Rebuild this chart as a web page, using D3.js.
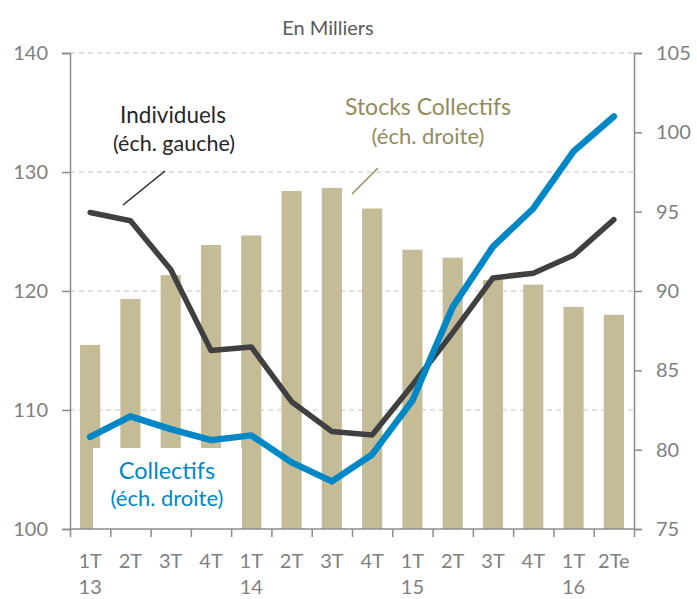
<!DOCTYPE html>
<html>
<head>
<meta charset="utf-8">
<script src="https://cdn.jsdelivr.net/npm/d3@7"></script>
<style>
  body { margin: 0; background: #fff; }
  svg { font-family: "Lato", "Open Sans", sans-serif; }
</style>
</head>
<body>
<script>
// Data
var quarters = ["1T", "2T", "3T", "4T", "1T", "2T", "3T", "4T", "1T", "2T", "3T", "4T", "1T", "2Te"];
var years = ["13", "", "", "", "14", "", "", "", "15", "", "", "", "16", ""];
var individuels = [126.6, 125.9, 121.8, 115.0, 115.3, 110.7, 108.2, 107.9, 112.1, 116.5, 121.1, 121.5, 123.0, 126.0]; // éch. gauche
var collectifs = [80.8, 82.1, 81.3, 80.6, 80.9, 79.2, 78.0, 79.7, 83.1, 89.0, 92.8, 95.2, 98.8, 101.0];       // éch. droite
var stocks = [86.6, 89.5, 91.0, 92.9, 93.5, 96.3, 96.5, 95.2, 92.6, 92.1, 90.7, 90.4, 89.0, 88.5];           // éch. droite
var leftTicks = [100, 110, 120, 130, 140];
var rightTicks = [75, 80, 85, 90, 95, 100, 105];

function chart() {
  var W = 697, H = 599;
  var left = 70, right = 634, top = 53, bottom = 529;

  var svg = d3.select("body").append("svg")
    .attr("width", W)
    .attr("height", H);

  var x = d3.scaleBand()
    .domain(d3.range(quarters.length))
    .range([left, right])
    .paddingInner(0.5)
    .paddingOuter(0.25);
  var xb = d3.scaleLinear().domain([0, quarters.length]).range([left, right]);
  var yL = d3.scaleLinear().domain([100, 140]).range([bottom, top]);
  var yR = d3.scaleLinear().domain([75, 105]).range([bottom, top]);
  var cx = function (i) { return x(i) + x.bandwidth() / 2; };

  // grid
  svg.append("g").selectAll("line")
    .data(leftTicks.slice(1))
    .enter().append("line")
    .attr("x1", left).attr("x2", right)
    .attr("y1", function (d) { return yL(d); })
    .attr("y2", function (d) { return yL(d); })
    .attr("stroke", "#c6c6c6")
    .attr("stroke-width", 1.2)
    .attr("stroke-dasharray", "5,4");

  // bars (stocks)
  svg.append("g").selectAll("rect")
    .data(stocks)
    .enter().append("rect")
    .attr("x", function (d, i) { return x(i); })
    .attr("y", function (d) { return yR(d); })
    .attr("width", x.bandwidth())
    .attr("height", function (d) { return yR(75) - yR(d); })
    .attr("fill", "#c4bc96");

  // white box behind the Collectifs label
  svg.append("rect")
    .attr("x", 93).attr("y", 448)
    .attr("width", 149).attr("height", bottom - 448)
    .attr("fill", "#fff");

  // axes
  var axL = svg.append("g")
    .attr("transform", "translate(" + left + ",0)")
    .call(d3.axisLeft(yL).tickValues(leftTicks).tickSize(8).tickPadding(14));
  var axR = svg.append("g")
    .attr("transform", "translate(" + right + ",0)")
    .call(d3.axisRight(yR).tickValues(rightTicks).tickSize(8).tickPadding(14));
  var axB = svg.append("g")
    .attr("transform", "translate(0," + bottom + ")")
    .call(d3.axisBottom(xb).tickValues(d3.range(quarters.length + 1)).tickFormat("").tickSize(8));

  [axL, axR, axB].forEach(function (g) {
    g.select(".domain").attr("stroke", "#8c8c8c").attr("stroke-width", 1.5);
    g.selectAll(".tick line").attr("stroke", "#8c8c8c").attr("stroke-width", 1.5);
    g.selectAll(".tick text")
      .attr("fill", "#808080")
      .attr("font-size", "20px")
      .attr("font-family", "Lato, 'Open Sans', sans-serif");
  });
  axB.select(".domain").attr("d", "M" + left + ",0H" + right);

  // x labels
  svg.append("g").selectAll("text")
    .data(quarters)
    .enter().append("text")
    .attr("x", function (d, i) { return cx(i); })
    .attr("y", 568)
    .attr("text-anchor", "middle")
    .attr("font-size", "20px")
    .attr("fill", "#808080")
    .text(function (d) { return d; });
  svg.append("g").selectAll("text")
    .data(years)
    .enter().append("text")
    .attr("x", function (d, i) { return cx(i); })
    .attr("y", 594)
    .attr("text-anchor", "middle")
    .attr("font-size", "20px")
    .attr("fill", "#808080")
    .text(function (d) { return d; });

  // lines
  var lineL = d3.line()
    .x(function (d, i) { return cx(i); })
    .y(function (d) { return yL(d); });
  var lineR = d3.line()
    .x(function (d, i) { return cx(i); })
    .y(function (d) { return yR(d); });

  svg.append("path")
    .datum(individuels)
    .attr("d", lineL)
    .attr("fill", "none")
    .attr("stroke", "#404040")
    .attr("stroke-width", 5.5)
    .attr("stroke-linecap", "round")
    .attr("stroke-linejoin", "round");

  svg.append("path")
    .datum(collectifs)
    .attr("d", lineR)
    .attr("fill", "none")
    .attr("stroke", "#0088c6")
    .attr("stroke-width", 6.5)
    .attr("stroke-linecap", "round")
    .attr("stroke-linejoin", "round");

  // annotations
  svg.append("text")
    .attr("x", 328).attr("y", 35)
    .attr("text-anchor", "middle")
    .attr("font-size", "20px")
    .attr("fill", "#595959")
    .text("En Milliers");

  svg.append("text")
    .attr("x", 173).attr("y", 123)
    .attr("text-anchor", "middle")
    .attr("font-size", "22.5px")
    .attr("fill", "#262626")
    .text("Individuels");
  svg.append("text")
    .attr("x", 174).attr("y", 151)
    .attr("text-anchor", "middle")
    .attr("font-size", "21.5px")
    .attr("fill", "#262626")
    .text("(éch. gauche)");
  svg.append("line")
    .attr("x1", 123).attr("y1", 205)
    .attr("x2", 165).attr("y2", 171)
    .attr("stroke", "#262626")
    .attr("stroke-width", 1.5);

  svg.append("text")
    .attr("x", 428).attr("y", 115)
    .attr("text-anchor", "middle")
    .attr("font-size", "23px")
    .attr("fill", "#948a5c")
    .text("Stocks Collectifs");
  svg.append("text")
    .attr("x", 428).attr("y", 144)
    .attr("text-anchor", "middle")
    .attr("font-size", "22px")
    .attr("fill", "#948a5c")
    .text("(éch. droite)");
  svg.append("line")
    .attr("x1", 352).attr("y1", 194)
    .attr("x2", 378).attr("y2", 168)
    .attr("stroke", "#948a5c")
    .attr("stroke-width", 1.5);

  svg.append("text")
    .attr("x", 167).attr("y", 479)
    .attr("text-anchor", "middle")
    .attr("font-size", "23.5px")
    .attr("fill", "#0088c6")
    .text("Collectifs");
  svg.append("text")
    .attr("x", 167).attr("y", 506)
    .attr("text-anchor", "middle")
    .attr("font-size", "22px")
    .attr("fill", "#0088c6")
    .text("(éch. droite)");
}

chart();
</script>
</body>
</html>
